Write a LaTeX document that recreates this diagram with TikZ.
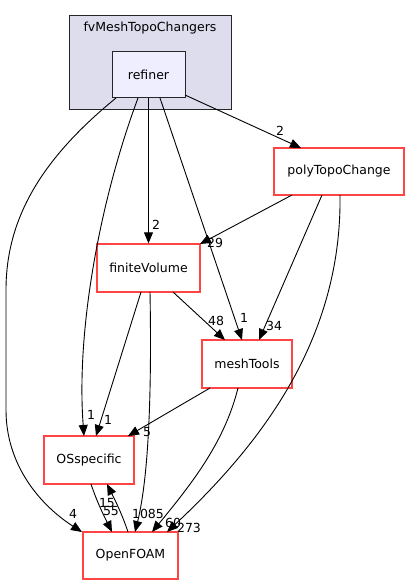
\documentclass[tikz,border=0pt]{standalone}
\usepackage{fontspec}
\setmainfont{DejaVu Sans}
\usetikzlibrary{arrows.meta}
\definecolor{clfill}{HTML}{DDDDEE}
\definecolor{nfill}{HTML}{EEEEFF}
\definecolor{nred}{HTML}{FF4444}
\begin{document}
\begin{tikzpicture}[x=1pt,y=-1pt,
  every node/.style={font=\fontsize{12.5}{15}\selectfont},
  dir/.style={draw=nred,line width=1.3pt,fill=white,inner sep=0pt},
  edge/.style={draw=black,line width=0.9pt,-{Triangle[length=11pt,width=9pt]}},
  lbl/.style={inner sep=0pt,font=\fontsize{12.5}{15}\selectfont}]
\useasboundingbox (0,0) rectangle (410,585);
% cluster
\node[draw=black!85,fill=clfill,line width=1pt,minimum width=162pt,minimum height=94pt,inner sep=0pt] (cl) at (150,63) {};
\node[lbl] (cltitle) at (150,28) {fvMeshTopoChangers};
\node[draw=black!85,fill=nfill,line width=1pt,minimum width=73pt,minimum height=46pt,inner sep=0pt] (refiner) at (148.5,75) {refiner};
\node[dir,minimum width=130pt,minimum height=47pt] (poly) at (339,171.5) {polyTopoChange};
\node[dir,minimum width=103pt,minimum height=48pt] (fv) at (148.5,268) {finiteVolume};
\node[dir,minimum width=90pt,minimum height=48pt] (mesh) at (247,364) {meshTools};
\node[dir,minimum width=90pt,minimum height=48pt] (os) at (89,460) {OSspecific};
\node[dir,minimum width=95pt,minimum height=47pt] (of) at (130.5,555.5) {OpenFOAM};
% edges from refiner
\coordinate (r1) at (185,95);
\coordinate (p1) at (301,148);
\draw[edge] (r1) -- (p1);
\draw[edge] (refiner.south) -- (fv.north);
\coordinate (r2) at (160,98);
\coordinate (m1) at (242,340);
\draw[edge] (r2) -- (m1);
\coordinate (r3) at (138,98);
\coordinate (o1) at (84,436);
\draw[edge] (r3) .. controls (100,200) and (76,330) .. (o1);
\coordinate (r4) at (116,98);
\coordinate (f1) at (82,532);
\draw[edge] (r4) .. controls (40,160) and (6,220) .. (6,290) -- (6,410) .. controls (6,465) and (40,505) .. (f1);
% poly
\coordinate (p2) at (292,195);
\coordinate (v1) at (200,244);
\draw[edge] (p2) -- (v1);
\coordinate (p3) at (322,195);
\coordinate (m2) at (259,340);
\draw[edge] (p3) -- (m2);
\coordinate (p4) at (340,195);
\coordinate (f2) at (167,532);
\draw[edge] (p4) .. controls (342,340) and (260,445) .. (f2);
% finiteVolume
\coordinate (v2) at (173,292);
\coordinate (m3) at (225,340);
\draw[edge] (v2) -- (m3);
\coordinate (v3) at (141,292);
\coordinate (o2) at (96,436);
\draw[edge] (v3) -- (o2);
\coordinate (v4) at (150,292);
\coordinate (f3) at (135,532);
\draw[edge] (v4) .. controls (152,400) and (148,480) .. (f3);
% meshTools
\coordinate (m4) at (210,388);
\coordinate (o3) at (128,436);
\draw[edge] (m4) -- (o3);
\coordinate (m5) at (238,388);
\coordinate (f4) at (152,532);
\draw[edge] (m5) .. controls (225,440) and (195,480) .. (f4);
% OSspecific <-> OpenFOAM
\coordinate (o4) at (91,484);
\coordinate (f5) at (112,532);
\draw[edge] (o4) .. controls (97,502) and (104,516) .. (f5);
\coordinate (f6) at (128,532);
\coordinate (o5) at (107,484);
\draw[edge] (f6) .. controls (122,514) and (115,500) .. (o5);
% labels
\node[lbl] (l1) at (280,131) {2};
\node[lbl] (l2) at (156,225) {2};
\node[lbl] (l3) at (215,243) {29};
\node[lbl] (l4) at (216,321) {48};
\node[lbl] (l5) at (244,318) {1};
\node[lbl] (l6) at (274,326) {34};
\node[lbl] (l7) at (91,415) {1};
\node[lbl] (l8) at (108,420) {1};
\node[lbl] (l9) at (147,432) {5};
\node[lbl] (l10) at (107,503) {15};
\node[lbl] (l11) at (111,511) {55};
\node[lbl] (l12) at (73,514) {4};
\node[lbl] (l13) at (148,514) {1085};
\node[lbl] (l14) at (173,523) {60};
\node[lbl] (l15) at (189,528) {273};
\end{tikzpicture}
\end{document}
